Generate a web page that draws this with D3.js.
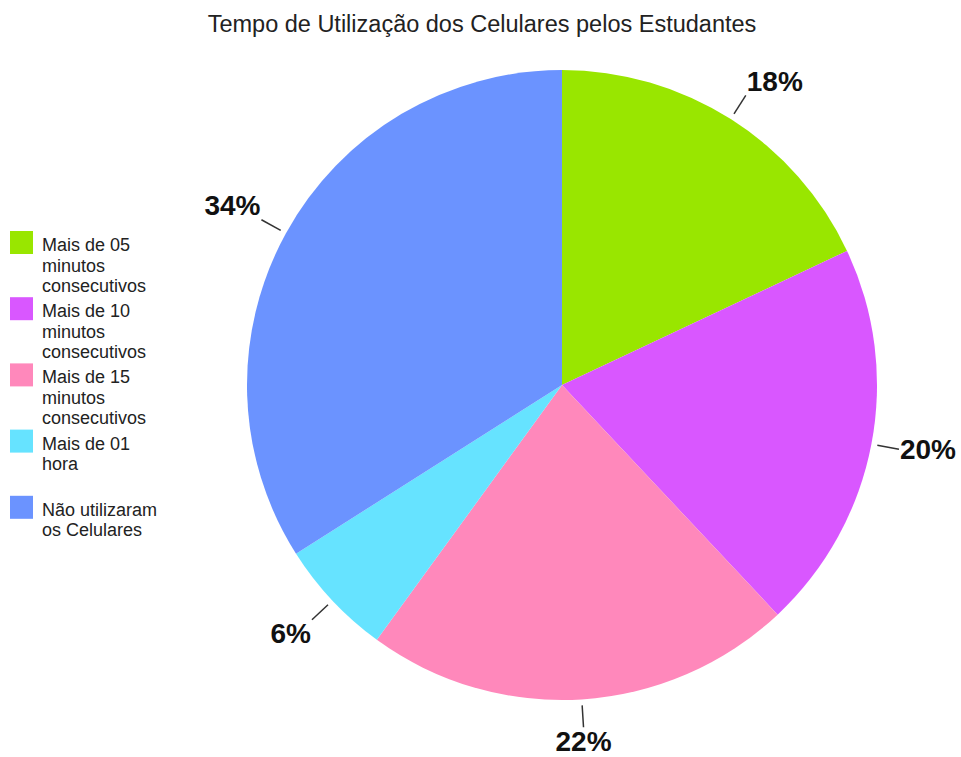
<!DOCTYPE html>
<html>
<head>
<meta charset="utf-8">
<script src="https://cdn.jsdelivr.net/npm/d3@7"></script>
<style>
  html, body { margin: 0; padding: 0; background: #fff; }
  svg { display: block; font-family: "Liberation Sans", Arial, sans-serif; }
</style>
</head>
<body>
<svg id="chart" width="961" height="757"></svg>
<script>
// Tempo de uso dos celulares (percentual de estudantes)
const categories = [
  ["Mais de 05", "minutos", "consecutivos"],
  ["Mais de 10", "minutos", "consecutivos"],
  ["Mais de 15", "minutos", "consecutivos"],
  ["Mais de 01", "hora"],
  ["Não utilizaram", "os Celulares"]
];
const values = [18, 20, 22, 6, 34];
const colors = ["#99e600", "#d957ff", "#ff88bb", "#66e3ff", "#6b93ff"];
const title = "Tempo de Utilização dos Celulares pelos Estudantes";

const svg = d3.select("#chart");
const cx = 562, cy = 385, radius = 315;

svg.append("text")
  .attr("x", 482).attr("y", 32)
  .attr("text-anchor", "middle")
  .attr("font-size", 23.5)
  .attr("fill", "#222")
  .text(title);

const data = values.map((v, i) => ({ value: v, color: colors[i], label: categories[i] }));
const pie = d3.pie().value(d => d.value).sort(null);
const arcs = pie(data);
const arc = d3.arc().innerRadius(0).outerRadius(radius);

const g = svg.append("g").attr("transform", `translate(${cx},${cy})`);

g.selectAll("path.slice")
  .data(arcs)
  .join("path")
  .attr("class", "slice")
  .attr("d", arc)
  .attr("fill", d => d.data.color);

// leader lines and percentage labels
const total = d3.sum(values);
const fmt = v => Math.round(v / total * 100) + "%";
const r0 = radius + 6, r1 = radius + 28;

arcs.forEach(a => {
  const ang = (a.startAngle + a.endAngle) / 2;
  const dx = Math.sin(ang), dy = -Math.cos(ang);
  const ex = dx * r1, ey = dy * r1;
  g.append("line")
    .attr("x1", dx * r0).attr("y1", dy * r0)
    .attr("x2", ex).attr("y2", ey)
    .attr("stroke", "#333").attr("stroke-width", 1.5);
  const anchor = dx > 0.3 ? "start" : dx < -0.3 ? "end" : "middle";
  const tx = ex + (dx > 0.3 ? 1 : dx < -0.3 ? -1 : 0);
  const ty = ey + (dy < -0.3 ? -14 : dy > 0.3 ? 14 : 0);
  g.append("text")
    .attr("x", tx).attr("y", ty)
    .attr("text-anchor", anchor)
    .attr("dominant-baseline", "central")
    .attr("font-size", 28)
    .attr("font-weight", "bold")
    .attr("fill", "#111")
    .text(fmt(a.data.value));
});

// legend
const legend = svg.append("g").attr("transform", "translate(10,231)");
const item = legend.selectAll("g.item")
  .data(data)
  .join("g")
  .attr("class", "item")
  .attr("transform", (d, i) => `translate(0,${i * 66.2})`);

item.append("rect")
  .attr("width", 23).attr("height", 23)
  .attr("fill", d => d.color);

item.append("text")
  .attr("font-size", 18)
  .attr("fill", "#222")
  .selectAll("tspan")
  .data(d => d.label)
  .join("tspan")
  .attr("x", 32)
  .attr("y", (d, i) => 20 + i * 20.5)
  .text(d => d);
</script>
</body>
</html>
